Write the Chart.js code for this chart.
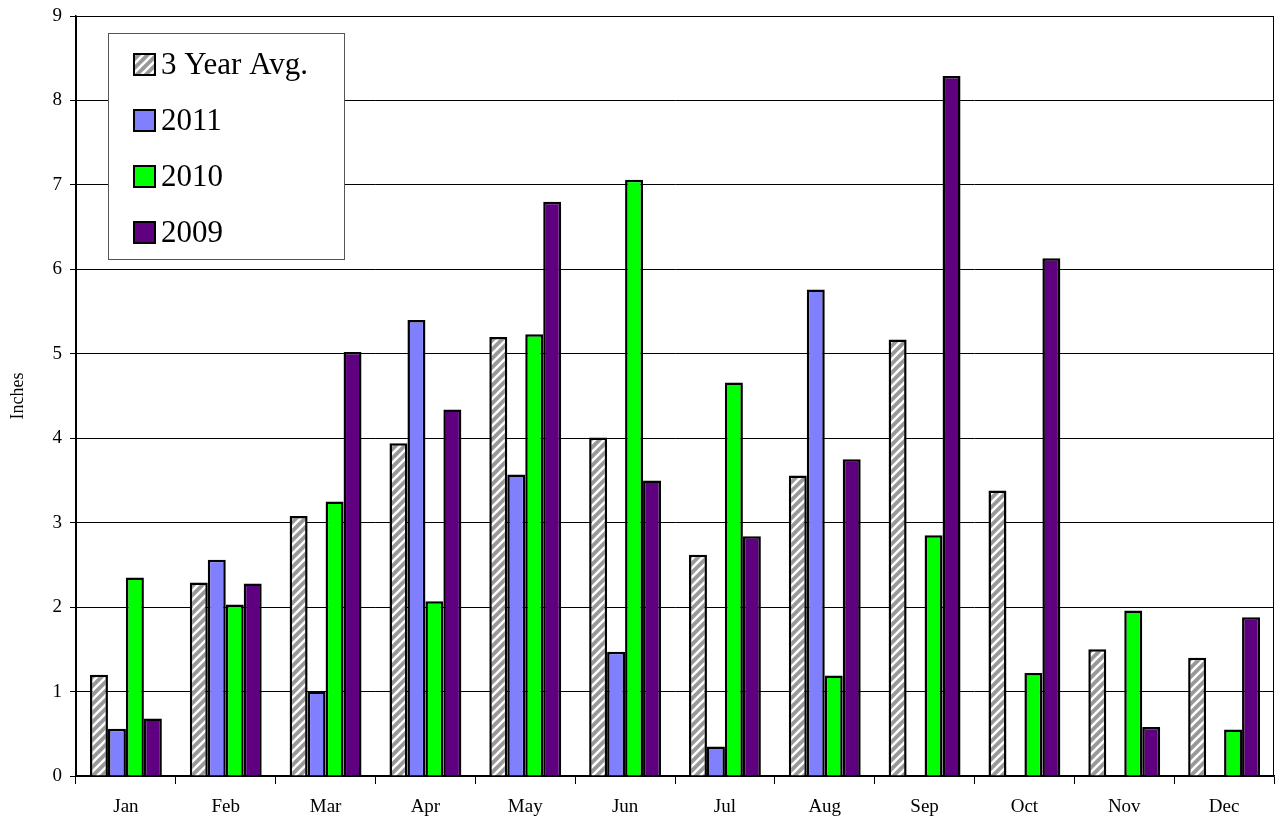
<!DOCTYPE html>
<html>
<head>
<meta charset="utf-8">
<script src="https://cdn.jsdelivr.net/npm/chart.js@4.4.1/dist/chart.umd.min.js"></script>
<style>
  html, body { margin: 0; padding: 0; background: #fff; }
  #wrap { width: 1275px; height: 821px; position: relative; }
</style>
</head>
<body>
<div id="wrap"><canvas id="rain" width="1275" height="821"></canvas></div>
<script>
// Monthly precipitation, inches
const months = ['Jan', 'Feb', 'Mar', 'Apr', 'May', 'Jun', 'Jul', 'Aug', 'Sep', 'Oct', 'Nov', 'Dec'];
const avg3yr = [1.20, 2.29, 3.08, 3.94, 5.20, 4.01, 2.62, 3.56, 5.17, 3.38, 1.50, 1.40];
const rain2011 = [0.56, 2.56, 1.00, 5.40, 3.57, 1.47, 0.35, 5.76, null, null, null, null];
const rain2010 = [2.35, 2.03, 3.25, 2.07, 5.23, 7.06, 4.66, 1.19, 2.85, 1.22, 1.96, 0.55];
const rain2009 = [0.68, 2.28, 5.02, 4.34, 6.80, 3.50, 2.84, 3.75, 8.29, 6.13, 0.58, 1.88];
const yTicks = [0, 1, 2, 3, 4, 5, 6, 7, 8, 9];

const FONT = "'Liberation Serif', 'Times New Roman', serif";

// Gray fill with white diagonal stripes for the average series
function makeHatch() {
  const s = 9;
  const c = document.createElement('canvas');
  c.width = s; c.height = s;
  const g = c.getContext('2d');
  g.fillStyle = '#999999';
  g.fillRect(0, 0, s, s);
  g.strokeStyle = '#ffffff';
  g.lineWidth = 2.6;
  g.beginPath();
  g.moveTo(-1, s + 1); g.lineTo(s + 1, -1);
  g.moveTo(-2, 2); g.lineTo(2, -2);
  g.moveTo(s - 2, s + 2); g.lineTo(s + 2, s - 2);
  g.stroke();
  return g.createPattern(c, 'repeat');
}
const ctx = document.getElementById('rain').getContext('2d');
const hatch = makeHatch();

// Frame around the plot area
const frame = {
  id: 'frame',
  afterDraw(chart) {
    const a = chart.chartArea, c = chart.ctx;
    c.save();
    c.strokeStyle = '#000';
    c.lineWidth = 1;
    c.strokeRect(a.left + 0.5, a.top + 0.5, a.right - a.left - 1, a.bottom - a.top);
    c.restore();
  }
};

// Boxed legend drawn inside the plot area
const boxLegend = {
  id: 'boxLegend',
  afterDraw(chart) {
    const c = chart.ctx;
    const x = 108, y = 33, w = 236, h = 226;
    c.save();
    c.fillStyle = '#fff';
    c.fillRect(x, y, w, h);
    c.strokeStyle = '#555';
    c.lineWidth = 1;
    c.strokeRect(x + 0.5, y + 0.5, w, h);
    c.font = '31px ' + FONT;
    c.textBaseline = 'middle';
    chart.data.datasets.forEach((ds, i) => {
      const cy = 65 + i * 56;
      c.fillStyle = ds.backgroundColor;
      c.fillRect(134, cy - 11, 21, 21);
      c.strokeStyle = '#000';
      c.lineWidth = 2;
      c.strokeRect(134, cy - 11, 21, 21);
      c.fillStyle = '#000';
      c.fillText(ds.label, 161, cy + 1);
    });
    c.restore();
  }
};

new Chart(ctx, {
  type: 'bar',
  data: {
    labels: months,
    datasets: [
      { label: '3 Year Avg.', data: avg3yr, backgroundColor: hatch },
      { label: '2011', data: rain2011, backgroundColor: '#8080ff' },
      { label: '2010', data: rain2010, backgroundColor: '#00ff00' },
      { label: '2009', data: rain2009, backgroundColor: '#5f0080' }
    ]
  },
  options: {
    responsive: false,
    animation: false,
    devicePixelRatio: 1,
    layout: { padding: { top: 16, right: 1, left: 0, bottom: 0 } },
    datasets: {
      bar: {
        borderColor: '#000',
        borderWidth: 2.5,
        categoryPercentage: 0.72,
        barPercentage: 1.0
      }
    },
    plugins: {
      legend: { display: false },
      tooltip: { enabled: false }
    },
    scales: {
      x: {
        grid: {
          offset: true,
          drawOnChartArea: false,
          drawTicks: true,
          tickLength: 8,
          color: '#000'
        },
        border: { color: '#000', width: 1.5 },
        ticks: { color: '#000', font: { family: FONT, size: 19 }, padding: 12 },
        afterFit(axis) { axis.height = 45; axis.paddingLeft = 0; axis.paddingRight = 0; }
      },
      y: {
        min: 0,
        max: 9,
        afterBuildTicks(axis) { axis.ticks = yTicks.map(v => ({ value: v })); },
        grid: { color: '#000', lineWidth: 1, tickLength: 6 },
        border: { color: '#000', width: 1.5 },
        ticks: { color: '#000', font: { family: FONT, size: 19 }, padding: 8 },
        title: {
          display: true,
          text: 'Inches',
          color: '#000',
          font: { family: FONT, size: 18 },
          padding: { top: 7, bottom: 4 }
        },
        afterFit(axis) { axis.width = 76; axis.paddingTop = 0; axis.paddingBottom = 0; }
      }
    }
  },
  plugins: [frame, boxLegend]
});
</script>
</body>
</html>
